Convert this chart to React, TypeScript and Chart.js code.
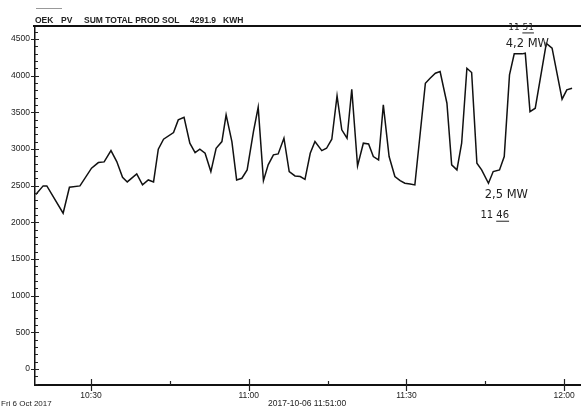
import React, { useEffect, useRef } from "react";
import { Chart, registerables } from "chart.js";

Chart.register(...registerables);

// minutes after 10:00
const minutes = [
  19.5, 20.9, 21.6, 24.7, 25.9, 27.9, 30.1, 31.4, 32.5, 33.8, 34.9, 36.0, 36.9, 38.7, 39.8, 40.9, 41.9, 42.8, 43.8, 45.7,
  46.6, 47.7, 48.8, 49.8, 50.7, 51.7, 52.8, 53.8, 54.9, 55.7, 56.8, 57.7, 58.7, 59.7, 60.9, 61.8, 62.8, 63.7, 64.7, 65.6,
  66.7, 67.7, 68.8, 69.8, 70.7, 71.7, 72.6, 73.9, 74.8, 75.8, 76.8, 77.7, 78.7, 79.6, 80.7, 81.8, 82.8, 83.7, 84.7, 85.6,
  86.7, 87.8, 88.8, 89.7, 90.7, 91.6, 93.6, 94.5, 95.5, 96.4, 97.7, 98.6, 99.6, 100.5, 101.5, 102.4, 103.4, 104.3, 105.6, 106.5,
  107.7, 108.6, 109.6, 110.5, 112.0, 112.6, 113.5, 114.5, 116.6, 117.7, 119.6, 120.5, 121.5,
];
const values = [
  2380, 2497, 2497, 2124, 2479, 2497, 2738, 2815, 2824, 2978, 2829, 2615, 2551, 2660, 2510, 2578, 2551, 2997, 3134, 3224,
  3397, 3433, 3079, 2951, 2997, 2942, 2692, 3010, 3101, 3465, 3101, 2578, 2601, 2715, 3238, 3569, 2569, 2783, 2920, 2933,
  3147, 2692, 2633, 2624, 2587, 2942, 3101, 2978, 3010, 3133, 3724, 3261, 3147, 3815, 2769, 3079, 3069, 2897, 2851, 3602,
  2897, 2624, 2569, 2533, 2524, 2510, 3896, 3965, 4033, 4056, 3624, 2783, 2715, 3079, 4101, 4042, 2806, 2715, 2533, 2692,
  2715, 2897, 4011, 4297, 4297, 4306, 3510, 3556, 4440, 4374, 3679, 3806, 3829,
];

const xTickMinutes = [30, 60, 90, 120];
const xTickLabels = ["10:30", "11:00", "11:30", "12:00"];
const xMinorMinutes = [45, 75, 105];
const yTickValues = [0, 500, 1000, 1500, 2000, 2500, 3000, 3500, 4000, 4500];
const yTickLabels = ["0", "500", "1000", "1500", "2000", "2500", "3000", "3500", "4000", "4500"];
const yMinorValues = [
  -200, -100, 100, 200, 300, 400, 600, 700, 800, 900, 1100, 1200, 1300, 1400, 1600, 1700, 1800, 1900, 2100, 2200, 2300,
  2400, 2600, 2700, 2800, 2900, 3100, 3200, 3300, 3400, 3600, 3700, 3800, 3900, 4100, 4200, 4300, 4400, 4600,
];

const titleParts = ["OEK", "PV", "SUM TOTAL PROD SOL", "4291.9", "KWH"];
const footerLeft = "Fri 6 Oct 2017";
const footerCenter = "2017-10-06 11:51:00";

// handwritten notes: [text, minute, value, font size]
const notes: [string, number, number, number][] = [
  ["11 51", 111.8, 4650, 9],
  ["4,2 MW", 113.0, 4430, 11.5],
  ["2,5 MW", 109.0, 2370, 11.5],
  ["11 46", 106.8, 2090, 10],
];

const decorPlugin = {
  id: "decor",
  afterDraw(chart: any) {
    const { ctx, chartArea } = chart;
    const xs = chart.scales.x;
    const ys = chart.scales.y;
    ctx.save();
    ctx.strokeStyle = "#111";
    // top border
    ctx.lineWidth = 2;
    ctx.beginPath();
    ctx.moveTo(chartArea.left - 2, chartArea.top);
    ctx.lineTo(chartArea.right, chartArea.top);
    ctx.stroke();
    // small line above title
    ctx.strokeStyle = "#999";
    ctx.lineWidth = 1;
    ctx.beginPath();
    ctx.moveTo(36, 8.5);
    ctx.lineTo(62, 8.5);
    ctx.stroke();
    // y ticks
    ctx.strokeStyle = "#222";
    ctx.lineWidth = 1;
    for (const v of yTickValues) {
      const y = Math.round(ys.getPixelForValue(v)) + 0.5;
      ctx.beginPath();
      ctx.moveTo(chartArea.left - 4, y);
      ctx.lineTo(chartArea.left + 4, y);
      ctx.stroke();
    }
    for (const v of yMinorValues) {
      const y = Math.round(ys.getPixelForValue(v)) + 0.5;
      ctx.beginPath();
      ctx.moveTo(chartArea.left, y);
      ctx.lineTo(chartArea.left + 3, y);
      ctx.stroke();
    }
    // x ticks
    ctx.lineWidth = 1.2;
    for (const m of xTickMinutes) {
      const x = Math.round(xs.getPixelForValue(m)) + 0.5;
      ctx.beginPath();
      ctx.moveTo(x, chartArea.bottom - 6);
      ctx.lineTo(x, chartArea.bottom + 6);
      ctx.stroke();
    }
    for (const m of xMinorMinutes) {
      const x = Math.round(xs.getPixelForValue(m)) + 0.5;
      ctx.beginPath();
      ctx.moveTo(x, chartArea.bottom - 4);
      ctx.lineTo(x, chartArea.bottom);
      ctx.stroke();
    }
    // title
    ctx.fillStyle = "#222";
    ctx.font = "bold 8.5px 'Liberation Sans', Arial, sans-serif";
    ctx.textBaseline = "alphabetic";
    ctx.textAlign = "left";
    const titleX = [35, 61, 84, 190, 223];
    titleParts.forEach((t, i) => ctx.fillText(t, titleX[i], 23));
    // footer
    ctx.font = "8px 'Liberation Sans', Arial, sans-serif";
    ctx.fillText(footerLeft, 1, 406);
    ctx.font = "8.5px 'Liberation Sans', Arial, sans-serif";
    ctx.fillText(footerCenter, 268, 406);
    // handwritten notes
    ctx.fillStyle = "#222";
    ctx.textAlign = "center";
    ctx.textBaseline = "middle";
    ctx.strokeStyle = "#222";
    ctx.lineWidth = 1;
    for (const [t, m, v, size] of notes) {
      ctx.font = `${size}px 'DejaVu Sans', sans-serif`;
      const x = xs.getPixelForValue(m);
      const y = ys.getPixelForValue(v);
      ctx.fillText(t, x, y);
      if (t.startsWith("11")) {
        const w = ctx.measureText(t).width;
        ctx.beginPath();
        ctx.moveTo(x + w * 0.05, y + size * 0.55);
        ctx.lineTo(x + w * 0.5, y + size * 0.55);
        ctx.stroke();
      }
    }
    ctx.restore();
  },
};

function fmtX(m: number) {
  const i = xTickMinutes.indexOf(m);
  return i >= 0 ? xTickLabels[i] : "";
}
function fmtY(v: number) {
  const i = yTickValues.indexOf(v);
  return i >= 0 ? yTickLabels[i] : "";
}

export default function App() {
  const ref = useRef<HTMLCanvasElement | null>(null);
  useEffect(() => {
    if (!ref.current) return;
    const chart = new Chart(ref.current, {
      type: "line",
      data: {
        datasets: [
          {
            data: minutes.map((m, i) => ({ x: m, y: values[i] })),
            borderColor: "#111",
            borderWidth: 1.5,
            pointRadius: 0,
            tension: 0,
            fill: false,
          },
        ],
      },
      options: {
        animation: false,
        responsive: false,
        layout: { padding: { left: 0, right: 0, top: 26, bottom: 0 } },
        plugins: { legend: { display: false }, tooltip: { enabled: false }, title: { display: false } },
        scales: {
          x: {
            type: "linear",
            min: 19.35,
            max: 123.2,
            afterBuildTicks: (s: any) => {
              s.ticks = xTickMinutes.map((v) => ({ value: v }));
            },
            afterFit: (s: any) => {
              s.height = 23;
            },
            grid: { display: false, drawTicks: false },
            border: { display: true, color: "#111", width: 2 },
            ticks: {
              callback: (v: any) => fmtX(Number(v)),
              font: { size: 8.5, family: "'Liberation Sans', Arial, sans-serif" },
              color: "#222",
              padding: 6,
              maxRotation: 0,
              autoSkip: false,
            },
          },
          y: {
            type: "linear",
            min: -218,
            max: 4677,
            afterBuildTicks: (s: any) => {
              s.ticks = yTickValues.map((v) => ({ value: v }));
            },
            afterFit: (s: any) => {
              s.width = 35;
            },
            grid: { display: false, drawTicks: false },
            border: { display: true, color: "#111", width: 1.5 },
            ticks: {
              callback: (v: any) => fmtY(Number(v)),
              font: { size: 8.5, family: "'Liberation Sans', Arial, sans-serif" },
              color: "#222",
              padding: 5,
              autoSkip: false,
            },
          },
        },
      },
      plugins: [decorPlugin],
    });
    return () => chart.destroy();
  }, []);
  return (
    <div style={{ position: "fixed", left: 0, top: 0, width: 581, height: 408, background: "#fff" }}>
      <canvas ref={ref} width={581} height={408} style={{ width: 581, height: 408 }} />
    </div>
  );
}
